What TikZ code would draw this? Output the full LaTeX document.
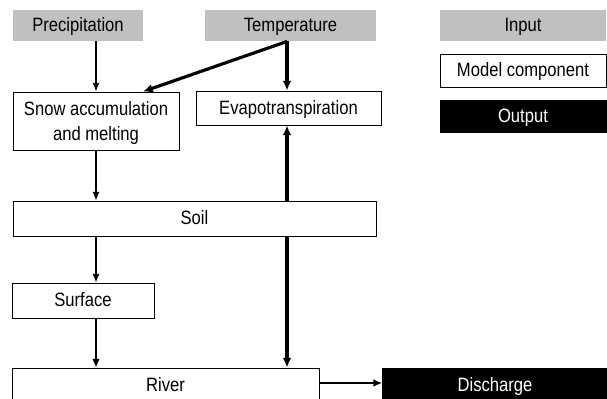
\documentclass[tikz,border=0pt]{standalone}
\usepackage{fontspec}
\setmainfont{Liberation Sans}[FakeStretch=0.86]
\usepackage{tikz}
\usetikzlibrary{arrows.meta}

\definecolor{xinput}{RGB}{192,192,192}

\begin{document}
\begin{tikzpicture}[x=0.02cm, y=-0.02cm,
  base/.style={draw=black, line width=0.5pt, inner sep=0pt, align=center,
               font=\fontsize{11}{14}\selectfont, text depth=0pt},
  box/.style={base, text height=0.72em, minimum height=#1*0.02cm},
  box/.default=34,
  inbox/.style={box=31, fill=xinput, draw=none},
  outbox/.style={box=32, fill=black, text=white},
  thin/.style={-{Latex[length=5pt,width=4pt]}, line width=0.6pt},
  mid/.style={-{Latex[length=5pt,width=4.5pt]}, line width=1pt},
  thk/.style={-{Latex[length=5.5pt,width=5pt]}, line width=1.8pt}
]
  \useasboundingbox (0,0) rectangle (607,398);

  % inputs
  \node[inbox, minimum width=2.6cm]  (prec) at (78,25.5)  {Precipitation};
  \node[inbox, minimum width=3.42cm] (temp) at (290.5,25.5) {Temperature};

  % legend
  \node[inbox, minimum width=3.32cm]       (lin)  at (523,25.5) {Input};
  \node[box=33, minimum width=3.32cm]      (lmod) at (523,70.5) {Model component};
  \node[outbox, minimum width=3.32cm]      (lout) at (523,116)  {Output};

  % model components
  \node[base, minimum height=1.16cm, minimum width=3.32cm] (snow) at (96,121)  {Snow accumulation\\and melting};
  \node[box, minimum width=3.7cm]     (evap) at (288.5,108) {Evapotranspiration};
  \node[box=35, minimum width=7.26cm] (soil) at (194.5,218.5) {Soil};
  \node[box=35, minimum width=2.84cm] (surf) at (83,300.5)  {Surface};
  \node[box, minimum width=6.14cm]    (river) at (165.5,385) {River};

  % output
  \node[outbox, minimum height=0.68cm, minimum width=4.5cm] (disc) at (495,385) {Discharge};

  % fluxes
  \draw[thin] (prec.south -| 96,0) -- (snow.north -| 96,0);
  \draw[thin] (snow.south -| 96,0) -- (soil.north -| 96,0);
  \draw[thin] (soil.south -| 96,0) -- (surf.north -| 96,0);
  \draw[mid]  (surf.south -| 96,0) -- (river.north -| 96,0);
  \draw[thk]  (temp.south -| 287,0) -- (snow.north -| 143,0);
  \draw[thk]  (temp.south -| 287,0) -- (evap.north -| 287,0);
  \draw[thk]  (soil.north -| 287,0) -- (evap.south -| 287,0);
  \draw[thk]  (soil.south -| 287,0) -- (river.north -| 287,0);
  \draw[mid]  (river.east |- 0,383) -- (disc.west |- 0,383);
\end{tikzpicture}
\end{document}
